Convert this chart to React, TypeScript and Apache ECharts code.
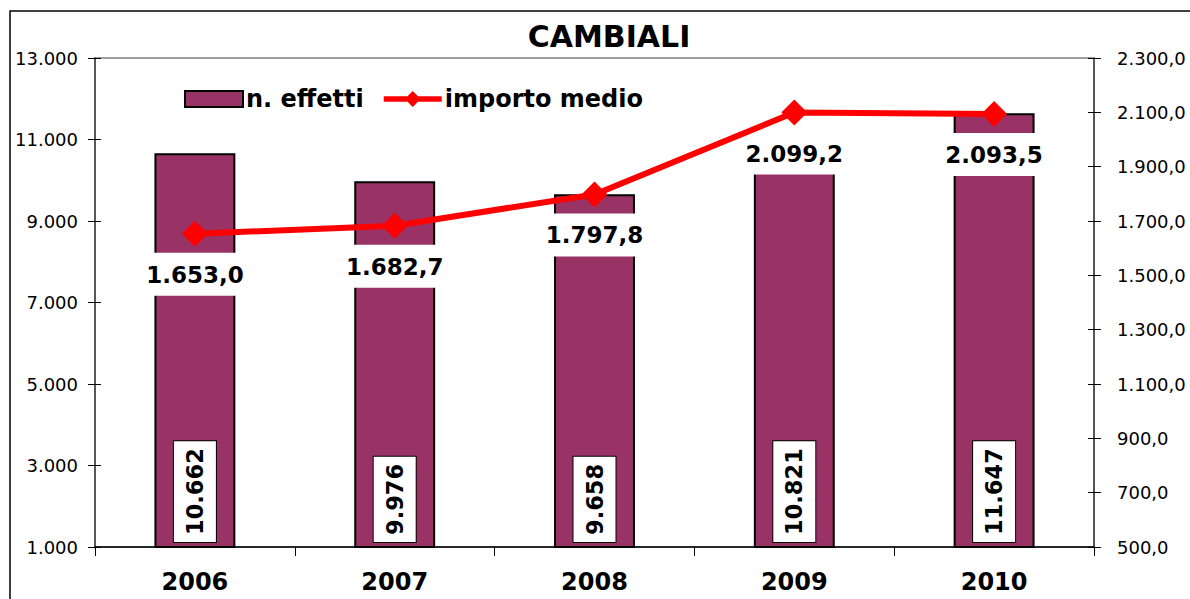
import React, { useEffect, useRef } from "react";
import * as echarts from "echarts";

const categories = ["2006", "2007", "2008", "2009", "2010"];
const nEffetti = [10662, 9976, 9658, 10821, 11647];
const importoMedio = [1653.0, 1682.7, 1797.8, 2099.2, 2093.5];
const leftTicks = { min: 1000, max: 13000, interval: 2000 };
const rightTicks = { min: 500, max: 2300, interval: 200 };

const fmtInt = (v: number) => {
  const s = Math.round(v).toString();
  return s.replace(/\B(?=(\d{3})+(?!\d))/g, ".");
};
const fmtDec = (v: number) => {
  const [i, d] = v.toFixed(1).split(".");
  return i.replace(/\B(?=(\d{3})+(?!\d))/g, ".") + "," + d;
};

const FONT = "DejaVu Sans";

export default function App() {
  const ref = useRef<HTMLDivElement>(null);
  useEffect(() => {
    if (!ref.current) return;
    const chart = echarts.init(ref.current, undefined, { renderer: "svg" });
    const axisCommon = {
      type: "value" as const,
      splitLine: { show: false },
    };
    chart.setOption({
      animation: false,
      backgroundColor: "#ffffff",
      title: {
        text: "CAMBIALI",
        left: 609,
        top: 21,
        textAlign: "center",
        padding: 0,
        textStyle: { fontFamily: FONT, fontSize: 30, fontWeight: "bold", color: "#000" },
      },
      legend: {
        left: 184,
        top: 87,
        padding: 0,
        itemWidth: 58,
        itemHeight: 16,
        itemGap: 20,
        symbolKeepAspect: false,
        textStyle: { fontFamily: FONT, fontSize: 24, fontWeight: "bold", color: "#000", padding: [0, 0, 0, -2] },
        data: [
          { name: "n. effetti", icon: "rect", itemStyle: { color: "#993366", borderColor: "#000", borderWidth: 2 } },
          {
            name: "importo medio",
            icon: "path://M0,3.3 L11.5,3.3 L14,0 L16.5,3.3 L28,3.3 L28,6.7 L16.5,6.7 L14,10 L11.5,6.7 L0,6.7 Z",
            itemStyle: { color: "#ff0000", borderWidth: 0 },
          },
        ],
      },
      graphic: [
        {
          type: "rect",
          shape: { x: 10, y: 11, width: 1200, height: 620 },
          style: { fill: "none", stroke: "#000", lineWidth: 1.5 },
          silent: true,
        },
      ],
      grid: {
        left: 95,
        right: 96,
        top: 58,
        bottom: 52,
        show: true,
        borderColor: "#808080",
        borderWidth: 1.5,
      },
      xAxis: {
        type: "category",
        data: categories,
        axisLine: { lineStyle: { color: "#000", width: 1.5 } },
        axisTick: { show: true, length: 9, lineStyle: { color: "#000", width: 1 } },
        axisLabel: { margin: 23, fontFamily: FONT, fontSize: 24, fontWeight: "bold", color: "#000" },
      },
      yAxis: [
        {
          ...axisCommon,
          ...leftTicks,
          position: "left",
          axisLine: { show: true, lineStyle: { color: "#404040", width: 1.5 } },
          axisTick: { show: true, length: 7, lineStyle: { color: "#000" } },
          axisLabel: { margin: 17, fontFamily: FONT, fontSize: 18, color: "#000", formatter: (v: number) => fmtInt(v) },
        },
        {
          ...axisCommon,
          ...rightTicks,
          position: "right",
          axisLine: { show: true, lineStyle: { color: "#404040", width: 1.5 } },
          axisTick: { show: true, length: 7, lineStyle: { color: "#000" } },
          axisLabel: { margin: 23, fontFamily: FONT, fontSize: 18, color: "#000", formatter: (v: number) => fmtDec(v) },
        },
        {
          ...axisCommon,
          ...leftTicks,
          position: "left",
          axisLine: { show: false },
          axisTick: { show: true, inside: true, length: 6, lineStyle: { color: "#000" } },
          axisLabel: { show: false },
        },
        {
          ...axisCommon,
          ...rightTicks,
          position: "right",
          axisLine: { show: false },
          axisTick: { show: true, inside: true, length: 6, lineStyle: { color: "#000" } },
          axisLabel: { show: false },
        },
      ],
      series: [
        {
          name: "n. effetti",
          type: "bar",
          yAxisIndex: 0,
          data: nEffetti,
          barWidth: "40.5%",
          z: 2,
          itemStyle: { color: "#993366", borderColor: "#000", borderWidth: 2 },
          label: {
            show: true,
            position: "insideBottom",
            rotate: 90,
            align: "left",
            verticalAlign: "middle",
            distance: 6,
            fontFamily: FONT,
            fontSize: 22.5,
            fontWeight: "bold",
            color: "#000",
            backgroundColor: "#fff",
            borderColor: "#000",
            borderWidth: 1,
            padding: [10, 7, 9, 7],
            formatter: (p: any) => fmtInt(p.value),
          },
        },
        {
          name: "importo medio (etichette)",
          type: "line",
          yAxisIndex: 1,
          data: importoMedio,
          symbol: "diamond",
          symbolSize: 26,
          lineStyle: { width: 0, opacity: 0 },
          itemStyle: { color: "transparent", borderWidth: 0 },
          z: 3,
          label: {
            show: true,
            position: "bottom",
            distance: 6,
            fontFamily: FONT,
            fontSize: 23,
            lineHeight: 26,
            fontWeight: "bold",
            color: "#000",
            backgroundColor: "#fff",
            padding: [9, 6, 8, 6],
            formatter: (p: any) => fmtDec(p.value),
          },
        },
        {
          name: "importo medio",
          type: "line",
          yAxisIndex: 1,
          data: importoMedio,
          symbol: "diamond",
          symbolSize: 26,
          lineStyle: { color: "#ff0000", width: 6 },
          itemStyle: { color: "#ff0000" },
          z: 5,
          label: { show: false },
        },
      ],
    });
    return () => chart.dispose();
  }, []);
  return (
    <div
      ref={ref}
      style={{ position: "fixed", left: 0, top: 0, width: 1190, height: 599 }}
    />
  );
}
